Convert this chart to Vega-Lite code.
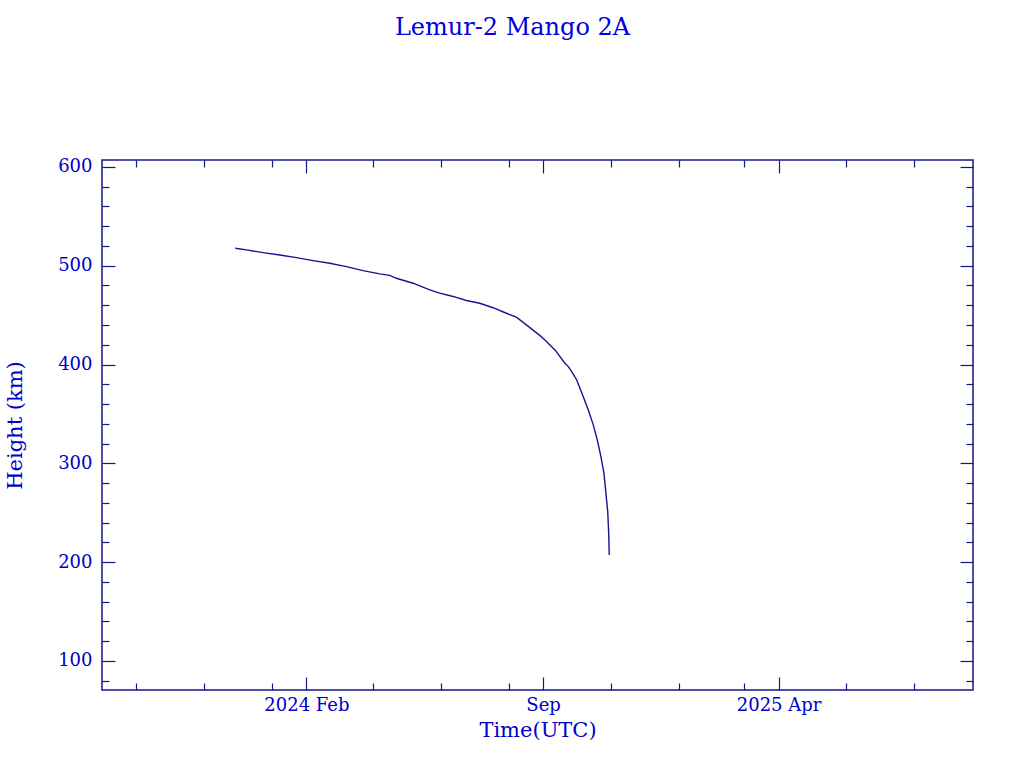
{
  "$schema": "https://vega.github.io/schema/vega-lite/v6.json",
  "width": 871,
  "height": 530,
  "autosize": "none",
  "padding": {"left": 102, "top": 160, "right": 51, "bottom": 78},
  "background": "white",
  "title": {"text": "Lemur-2 Mango 2A", "font": "DejaVu Serif", "fontSize": 24, "fontWeight": "normal", "color": "#0000e0", "anchor": "middle", "offset": 118, "dx": -25},
  "config": {
    "view": {"stroke": "#151590", "strokeWidth": 1.5},
    "axis": {"domain": false, "grid": false, "tickColor": "#151590", "tickWidth": 1.2, "labelColor": "#0000c8", "labelFont": "DejaVu Serif", "labelFontSize": 18, "titleColor": "#0000c8", "titleFont": "DejaVu Serif", "titleFontSize": 21, "titleFontWeight": "normal"}
  },
  "data": {"values": [
    {"time": "2023-11-29", "height_km": 517.7},
    {"time": "2023-12-09", "height_km": 516.0},
    {"time": "2023-12-24", "height_km": 513.3},
    {"time": "2024-01-08", "height_km": 510.9},
    {"time": "2024-01-23", "height_km": 508.2},
    {"time": "2024-02-07", "height_km": 505.2},
    {"time": "2024-02-22", "height_km": 502.5},
    {"time": "2024-03-08", "height_km": 499.1},
    {"time": "2024-03-23", "height_km": 495.0},
    {"time": "2024-04-07", "height_km": 491.7},
    {"time": "2024-04-16", "height_km": 490.2},
    {"time": "2024-04-22", "height_km": 487.3},
    {"time": "2024-05-07", "height_km": 482.3},
    {"time": "2024-05-22", "height_km": 475.5},
    {"time": "2024-05-31", "height_km": 472.2},
    {"time": "2024-06-12", "height_km": 468.9},
    {"time": "2024-06-24", "height_km": 464.8},
    {"time": "2024-07-06", "height_km": 462.0},
    {"time": "2024-07-18", "height_km": 457.5},
    {"time": "2024-07-30", "height_km": 451.9},
    {"time": "2024-08-08", "height_km": 447.9},
    {"time": "2024-08-17", "height_km": 440.1},
    {"time": "2024-08-29", "height_km": 429.5},
    {"time": "2024-09-02T17:00:00Z", "height_km": 424.9},
    {"time": "2024-09-11T17:00:00Z", "height_km": 414.8},
    {"time": "2024-09-20T17:00:00Z", "height_km": 401.3},
    {"time": "2024-09-23T17:00:00Z", "height_km": 397.9},
    {"time": "2024-09-26T19:00:00Z", "height_km": 392.8},
    {"time": "2024-10-01T07:00:00Z", "height_km": 384.4},
    {"time": "2024-10-04T05:00:00Z", "height_km": 376.0},
    {"time": "2024-10-07T05:00:00Z", "height_km": 367.5},
    {"time": "2024-10-11T17:00:00Z", "height_km": 354.0},
    {"time": "2024-10-16T05:00:00Z", "height_km": 338.9},
    {"time": "2024-10-19T19:00:00Z", "height_km": 323.7},
    {"time": "2024-10-23T02:00:00Z", "height_km": 306.8},
    {"time": "2024-10-25T19:00:00Z", "height_km": 290.0},
    {"time": "2024-10-27T14:00:00Z", "height_km": 269.8},
    {"time": "2024-10-29T05:00:00Z", "height_km": 251.1},
    {"time": "2024-10-30T02:00:00Z", "height_km": 229.2},
    {"time": "2024-10-30T14:00:00Z", "height_km": 207.3}
  ]},
  "resolve": {"axis": {"x": "independent", "y": "independent"}},
  "layer": [
    {
      "mark": {"type": "line", "color": "#151590", "strokeWidth": 1.4},
      "encoding": {
        "x": {"field": "time", "type": "temporal",
          "scale": {"type": "utc", "domain": [{"year": 2023, "month": 8, "date": 1, "utc": true}, {"year": 2025, "month": 9, "date": 23, "utc": true}]},
          "axis": {"orient": "bottom", "title": "Time(UTC)", "titlePadding": 5,
            "values": [{"year": 2024, "month": 2, "date": 1, "utc": true}, {"year": 2024, "month": 9, "date": 1, "utc": true}, {"year": 2025, "month": 4, "date": 1, "utc": true}],
            "labelExpr": "utcmonth(datum.value) == 8 ? 'Sep' : utcFormat(datum.value, '%Y %b')",
            "tickSize": -13, "labelPadding": 19}},
        "y": {"field": "height_km", "type": "quantitative",
          "scale": {"domain": [70.6, 607], "nice": false, "zero": false},
          "axis": {"orient": "left", "title": "Height (km)", "values": [100, 200, 300, 400, 500, 600], "tickSize": -13, "labelPadding": 23, "titlePadding": 32}}
      }
    },
    {
      "transform": [{"filter": "false"}],
      "mark": {"type": "line"},
      "encoding": {
        "x": {"field": "time", "type": "temporal",
          "axis": {"orient": "bottom", "title": null, "labels": false, "tickSize": -7,
            "values": [{"year": 2023, "month": 9, "date": 1, "utc": true}, {"year": 2023, "month": 11, "date": 1, "utc": true}, {"year": 2024, "month": 1, "date": 1, "utc": true}, {"year": 2024, "month": 4, "date": 1, "utc": true}, {"year": 2024, "month": 6, "date": 1, "utc": true}, {"year": 2024, "month": 8, "date": 1, "utc": true}, {"year": 2024, "month": 11, "date": 1, "utc": true}, {"year": 2025, "month": 1, "date": 1, "utc": true}, {"year": 2025, "month": 3, "date": 1, "utc": true}, {"year": 2025, "month": 6, "date": 1, "utc": true}, {"year": 2025, "month": 8, "date": 1, "utc": true}]}},
        "y": {"field": "height_km", "type": "quantitative",
          "axis": {"orient": "left", "title": null, "labels": false, "tickSize": -7,
            "values": [80, 120, 140, 160, 180, 220, 240, 260, 280, 320, 340, 360, 380, 420, 440, 460, 480, 520, 540, 560, 580]}}
      }
    },
    {
      "transform": [{"filter": "false"}],
      "mark": {"type": "line"},
      "encoding": {
        "x": {"field": "time", "type": "temporal",
          "axis": {"orient": "top", "title": null, "labels": false, "tickSize": -13,
            "values": [{"year": 2024, "month": 2, "date": 1, "utc": true}, {"year": 2024, "month": 9, "date": 1, "utc": true}, {"year": 2025, "month": 4, "date": 1, "utc": true}]}},
        "y": {"field": "height_km", "type": "quantitative",
          "axis": {"orient": "right", "title": null, "labels": false, "tickSize": -13, "values": [100, 200, 300, 400, 500, 600]}}
      }
    },
    {
      "transform": [{"filter": "false"}],
      "mark": {"type": "line"},
      "encoding": {
        "x": {"field": "time", "type": "temporal",
          "axis": {"orient": "top", "title": null, "labels": false, "tickSize": -7,
            "values": [{"year": 2023, "month": 9, "date": 1, "utc": true}, {"year": 2023, "month": 11, "date": 1, "utc": true}, {"year": 2024, "month": 1, "date": 1, "utc": true}, {"year": 2024, "month": 4, "date": 1, "utc": true}, {"year": 2024, "month": 6, "date": 1, "utc": true}, {"year": 2024, "month": 8, "date": 1, "utc": true}, {"year": 2024, "month": 11, "date": 1, "utc": true}, {"year": 2025, "month": 1, "date": 1, "utc": true}, {"year": 2025, "month": 3, "date": 1, "utc": true}, {"year": 2025, "month": 6, "date": 1, "utc": true}, {"year": 2025, "month": 8, "date": 1, "utc": true}]}},
        "y": {"field": "height_km", "type": "quantitative",
          "axis": {"orient": "right", "title": null, "labels": false, "tickSize": -7,
            "values": [80, 120, 140, 160, 180, 220, 240, 260, 280, 320, 340, 360, 380, 420, 440, 460, 480, 520, 540, 560, 580]}}
      }
    }
  ]
}
